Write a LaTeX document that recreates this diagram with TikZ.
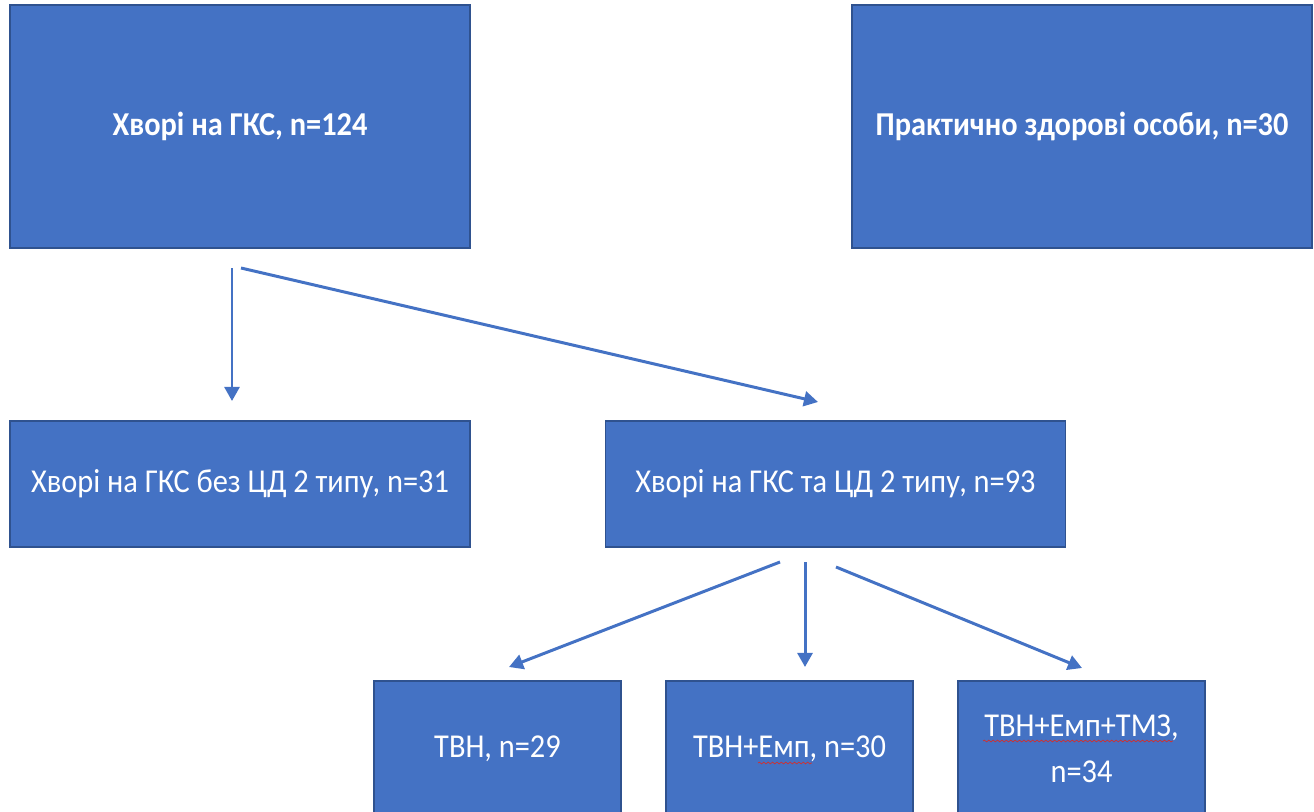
\documentclass[tikz,border=0pt]{standalone}
\usepackage{fontspec}
\setmainfont{Carlito}[FakeStretch=0.91]
\usetikzlibrary{arrows.meta,decorations.pathmorphing}
\definecolor{boxblue}{HTML}{4472C4}
\definecolor{boxedge}{HTML}{2F528F}
\definecolor{spellred}{HTML}{D03030}
\tikzset{
	group/.style={draw=boxedge, line width=0.8pt, fill=boxblue, text=white, font=\fontsize{19}{26.5}\selectfont, align=center, inner sep=0pt},
	bigbox/.style={group, minimum width=9.2cm, minimum height=4.86cm},
	midbox/.style={group, minimum width=9.2cm, minimum height=2.52cm},
	smallbox/.style={group, minimum width=4.94cm, minimum height=2.72cm},
	link/.style={draw=boxblue, line width=1.7pt, -{Triangle[length=8pt,width=8.5pt]}},
	squiggle/.style={draw=spellred, line width=0.4pt, decorate, decoration={snake, amplitude=0.5pt, segment length=2.5pt}}
}

\begin{document}
\begin{tikzpicture}[x=0.02cm, y=-0.02cm]
			%%%%% START %%%%%
			\useasboundingbox (0, 0) rectangle (1314, 811);
			\clip (0, 0) rectangle (1314, 811);
			
			\node[bigbox, font=\fontsize{19}{26.5}\selectfont\bfseries] (sick) at (240, 126.5) {Хворі на ГКС, n=124};
			\node[bigbox, font=\fontsize{19}{26.5}\selectfont\bfseries] (healthy) at (1082, 126.5) {Практично здорові особи, n=30};
			
			\node[midbox] (nodm) at (240, 484) {Хворі на ГКС без ЦД 2 типу, n=31};
			\node[midbox] (withdm) at (835.5, 484) {Хворі на ГКС та ЦД 2 типу, n=93};
			
			\node[smallbox] (tvn) at (497.5, 749) {ТВН, n=29};
			\node[smallbox] (tvnemp) at (789.5, 749) {ТВН+Емп, n=30};
			\node[smallbox] (tvnemptmz) at (1081.5, 749) {ТВН+Емп+ТМЗ,\\n=34};
			
			% arrow ends
			\coordinate (s1) at (232, 268);
			\coordinate (e1) at (232, 401);
			\coordinate (s2) at (241, 268);
			\coordinate (e2) at (818, 402);
			\coordinate (s3) at (780, 562);
			\coordinate (e3) at (509, 667);
			\coordinate (s4) at (805, 562);
			\coordinate (e4) at (805, 667);
			\coordinate (s5) at (836, 567);
			\coordinate (e5) at (1082, 668);
			
			\draw[link] (s1) -- (e1);
			\draw[link] (s2) -- (e2);
			\draw[link] (s3) -- (e3);
			\draw[link] (s4) -- (e4);
			\draw[link] (s5) -- (e5);
			
			% spell check marks
			\draw[squiggle] (758, 763) -- (812, 763);
			\draw[squiggle] (983, 741) -- (1173, 741);
			
			%%%%% END %%%%%
\end{tikzpicture}
\end{document}
